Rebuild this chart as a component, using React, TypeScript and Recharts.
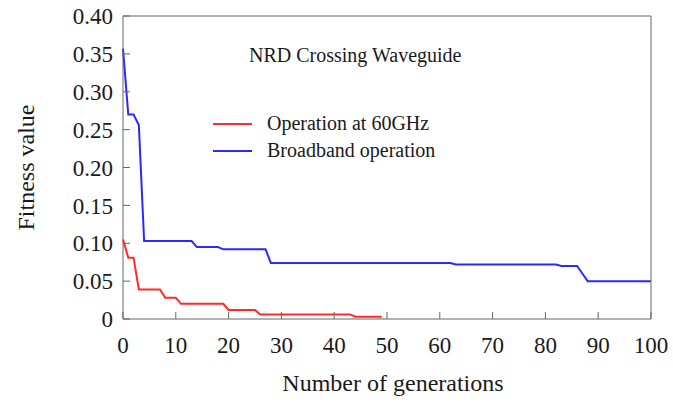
import { LineChart, Line, XAxis, YAxis, Legend } from "recharts";

// best fitness per generation (step points only; flat runs are straight segments)
const singleGen = [0, 1, 2, 3, 7, 8, 10, 11, 19, 20, 25, 26, 43, 44, 49];
const singleFit = [0.105, 0.081, 0.081, 0.039, 0.039, 0.028, 0.028, 0.02, 0.02, 0.012, 0.012, 0.006, 0.006, 0.003, 0.003];

const broadGen = [0, 1, 2, 3, 4, 13, 14, 18, 19, 27, 28, 62, 63, 82, 83, 86, 87, 88, 100];
const broadFit = [0.357, 0.27, 0.27, 0.256, 0.103, 0.103, 0.095, 0.095, 0.092, 0.092, 0.074, 0.074, 0.072, 0.072, 0.07, 0.07, 0.06, 0.05, 0.05];

const xTicks = [0, 10, 20, 30, 40, 50, 60, 70, 80, 90, 100];
const yTicks = [0, 0.05, 0.1, 0.15, 0.2, 0.25, 0.3, 0.35, 0.4];

const seriesNames = ["Operation at 60GHz", "Broadband operation"];
const seriesColors = ["#ff2a2a", "#2a2aff"];

const singleData = singleGen.map((g, i) => ({ gen: g, fit: singleFit[i] }));
const broadData = broadGen.map((g, i) => ({ gen: g, fit: broadFit[i] }));

const FONT = "'Liberation Serif', 'Times New Roman', serif";
const FRAME = "#666";
const tickStyle = { fontFamily: FONT, fontSize: 23, fill: "#1a1a1a" };

function LegendBox() {
  return (
    <div style={{ fontFamily: FONT, fontSize: 20, color: "#1a1a1a" }}>
      {seriesNames.map((name, i) => (
        <div key={name} style={{ display: "flex", alignItems: "center", height: 27 }}>
          <span style={{ display: "inline-block", width: 39, height: 2, background: seriesColors[i], marginRight: 15 }} />
          <span>{name}</span>
        </div>
      ))}
    </div>
  );
}

export default function App() {
  return (
    <div style={{ position: "absolute", left: 0, top: 0, width: 673, height: 407, background: "#fff" }}>
      <LineChart width={673} height={407} margin={{ top: 15, right: 21, bottom: 0, left: 0 }}>
        <XAxis
          dataKey="gen"
          type="number"
          domain={[0, 100]}
          ticks={xTicks}
          allowDuplicatedCategory={false}
          height={88}
          tickSize={-7}
          tickMargin={25}
          tick={tickStyle}
          stroke={FRAME}
          label={{ value: "Number of generations", position: "insideBottom", offset: 16, dx: 6, style: { fontFamily: FONT, fontSize: 24, fill: "#1a1a1a" } }}
        />
        <XAxis xAxisId="top" orientation="top" type="number" domain={[0, 100]} ticks={xTicks} height={1} tickSize={-7} tick={false} stroke={FRAME} />
        <YAxis
          type="number"
          domain={[0, 0.4]}
          ticks={yTicks}
          width={123}
          tickSize={-7}
          tickMargin={17}
          tick={tickStyle}
          tickFormatter={(v: number) => (v === 0 ? "0" : v.toFixed(2))}
          stroke={FRAME}
          label={{ value: "Fitness value", angle: -90, position: "center", dx: -36, style: { fontFamily: FONT, fontSize: 24, fill: "#1a1a1a" } }}
        />
        <YAxis yAxisId="right" orientation="right" type="number" domain={[0, 0.4]} ticks={yTicks} width={1} tickSize={-7} tick={false} stroke={FRAME} />
        <Legend
          layout="horizontal"
          verticalAlign="middle"
          align="center"
          wrapperStyle={{ left: 213, top: 110, width: "auto" }}
          content={() => <LegendBox />}
        />
        <Line data={singleData} dataKey="fit" name={seriesNames[0]} type="linear" stroke={seriesColors[0]} strokeWidth={2} dot={false} isAnimationActive={false} />
        <Line data={broadData} dataKey="fit" name={seriesNames[1]} type="linear" stroke={seriesColors[1]} strokeWidth={2} dot={false} isAnimationActive={false} />
      </LineChart>
      <div style={{ position: "absolute", left: 249, top: 44, fontFamily: FONT, fontSize: 20, color: "#1a1a1a", whiteSpace: "nowrap" }}>
        NRD Crossing Waveguide
      </div>
    </div>
  );
}
